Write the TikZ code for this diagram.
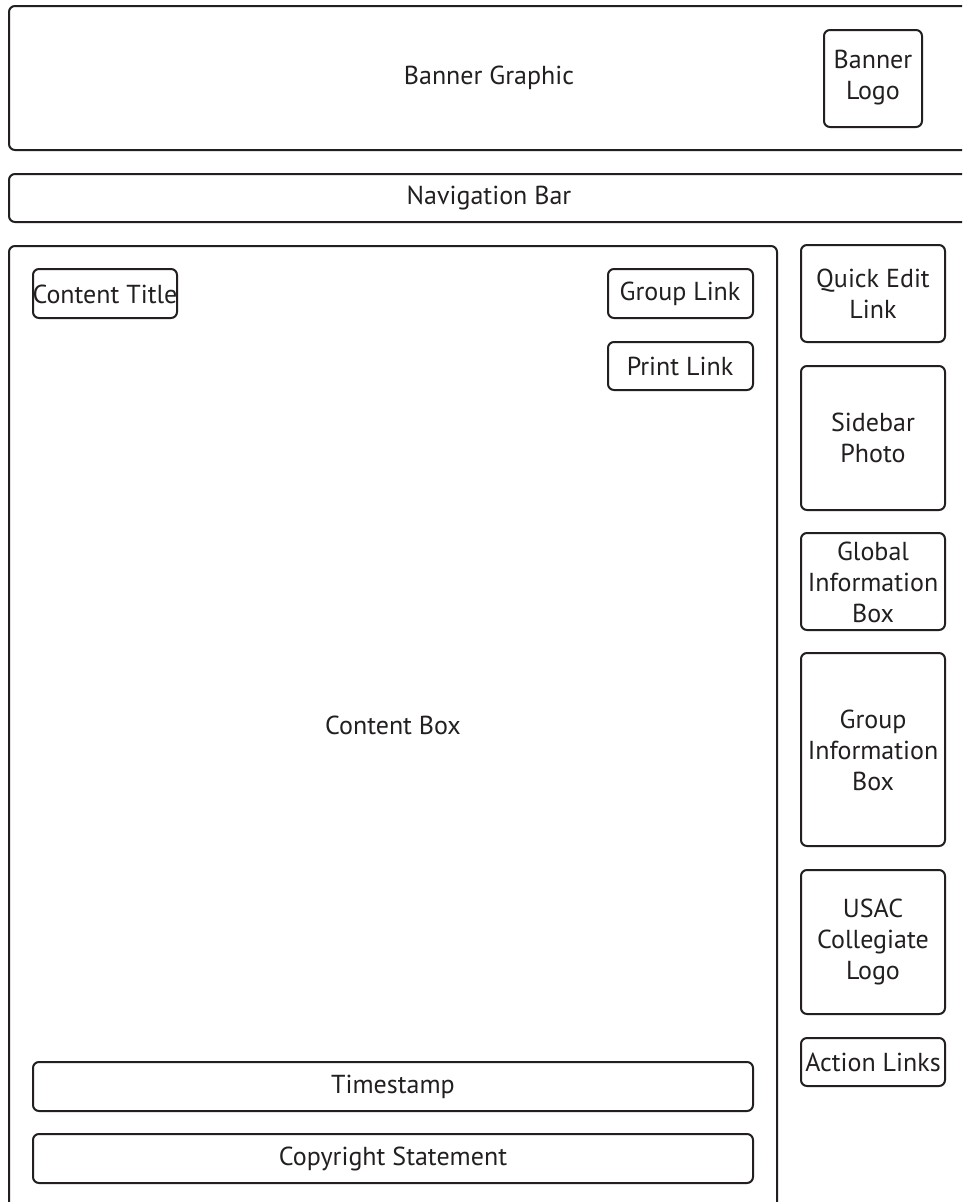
\documentclass[tikz,border=0pt]{standalone}
\usepackage{fontspec}
\setmainfont{PT Sans}
\definecolor{ink}{HTML}{231F20}
\begin{document}
\begin{tikzpicture}[x=1pt,y=-1pt,
  box/.style={draw=ink,line width=2pt,rounded corners=6pt},
  lbl/.style={text=ink,font=\fontsize{26}{31}\selectfont,align=center,inner sep=0pt}]
\clip (0,0) rectangle (962,1202);
\useasboundingbox (0,0) rectangle (962,1202);
\fill[white] (0,0) rectangle (962,1202);
% banner
\draw[box] (9,6) rectangle (990,150);
\node[lbl] (banner) at (489,78) {Banner Graphic};
\draw[box] (824,30) rectangle (922,127);
\node[lbl] (logo) at (873,78) {Banner\\Logo};
% nav
\draw[box] (9,174) rectangle (990,222);
\node[lbl] (nav) at (489,198) {Navigation Bar};
% content
\draw[box] (9,246) rectangle (777,1230);
\node[lbl] (content) at (393,725) {Content Box};
\draw[box] (33,269) rectangle (177,318);
\node[lbl] (ctitle) at (105,294) {Content Title};
\draw[box] (608,269) rectangle (753,318);
\node[lbl] (glink) at (680,294) {Group Link};
\draw[box] (608,342) rectangle (753,390);
\node[lbl] (plink) at (680,366) {Print Link};
\draw[box] (33,1062) rectangle (753,1111);
\node[lbl] (ts) at (393,1087) {Timestamp};
\draw[box] (33,1134) rectangle (753,1183);
\node[lbl] (copy) at (393,1159) {Copyright Statement};
% sidebar
\draw[box] (801,245) rectangle (945,342);
\node[lbl] (qe) at (873,294) {Quick Edit\\Link};
\draw[box] (801,366) rectangle (945,510);
\node[lbl] (sp) at (873,438) {Sidebar\\Photo};
\draw[box] (801,533) rectangle (945,630);
\node[lbl] (gi) at (873,582) {Global\\Information\\Box};
\draw[box] (801,653) rectangle (945,846);
\node[lbl] (gri) at (873,750) {Group\\Information\\Box};
\draw[box] (801,870) rectangle (945,1014);
\node[lbl] (usac) at (873,942) {USAC\\Collegiate\\Logo};
\draw[box] (801,1038) rectangle (945,1086);
\node[lbl] (al) at (873,1062) {Action Links};
\end{tikzpicture}
\end{document}
